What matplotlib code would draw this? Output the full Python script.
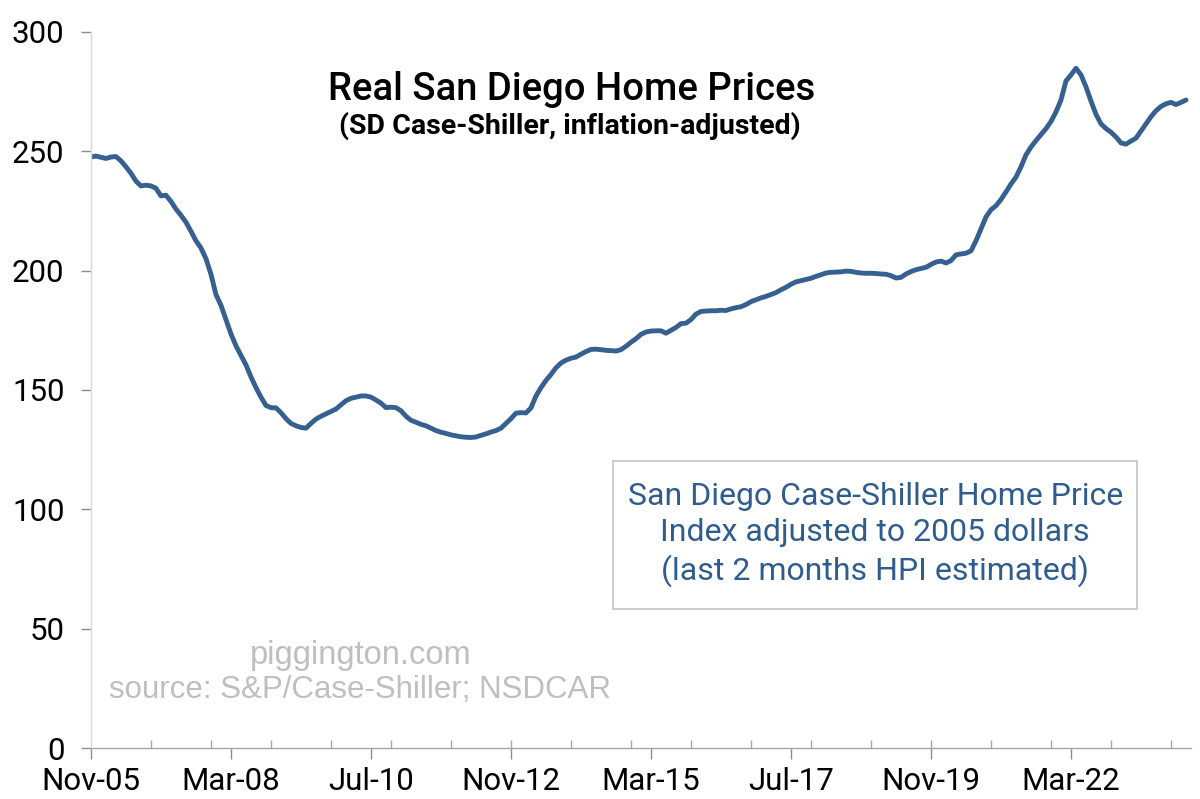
import matplotlib
matplotlib.use("Agg")
import matplotlib.pyplot as plt
from matplotlib.patches import Rectangle
import numpy as np
import pandas as pd

# monthly real index, Nov-2005 .. Feb-2024
START = "2005-11"
real_hpi = [
    247.6, 248.0, 247.5, 247.0, 247.6, 247.8, 246.0, 243.5, 240.8, 237.5, 235.5, 235.8,
    235.5, 234.5, 231.3, 231.6, 229.0, 225.8, 223.2, 220.3, 216.5, 212.5, 209.5, 205.0,
    198.5, 190.0, 185.5, 179.5, 173.5, 168.5, 164.5, 160.5, 155.5, 151.0, 147.0, 143.5,
    142.6, 142.5, 140.5, 138.0, 136.0, 135.0, 134.3, 134.0, 136.0, 137.8, 139.0, 140.0,
    141.0, 142.0, 143.8, 145.5, 146.5, 147.0, 147.5, 147.5, 147.0, 145.8, 144.5, 142.6,
    142.8, 142.6, 141.3, 139.0, 137.3, 136.5, 135.6, 135.0, 134.0, 133.0, 132.3, 131.8,
    131.2, 130.8, 130.4, 130.2, 130.1, 130.3, 131.0, 131.6, 132.4, 133.0, 134.0, 136.0,
    138.0, 140.3, 140.5, 140.4, 142.5, 147.5, 151.0, 154.0, 156.5, 159.3, 161.3, 162.5,
    163.3, 163.8, 165.0, 166.1, 167.0, 167.1, 166.9, 166.6, 166.5, 166.3, 166.9, 168.3,
    170.0, 171.5, 173.3, 174.3, 174.7, 174.8, 174.8, 173.8, 175.0, 176.2, 177.8, 178.0,
    179.5, 181.8, 182.9, 183.1, 183.2, 183.2, 183.4, 183.3, 184.0, 184.5, 184.9, 185.8,
    187.0, 187.8, 188.6, 189.2, 190.0, 190.8, 192.0, 193.0, 194.3, 195.3, 195.8, 196.3,
    196.8, 197.6, 198.3, 199.0, 199.3, 199.4, 199.5, 199.8, 199.7, 199.3, 199.0, 198.9,
    198.9, 198.8, 198.6, 198.5, 197.9, 196.9, 197.2, 198.6, 199.6, 200.4, 200.9, 201.4,
    202.6, 203.6, 204.0, 203.2, 204.2, 206.6, 207.0, 207.3, 208.3, 212.5, 217.5, 222.5,
    225.5, 227.2, 229.8, 233.0, 236.3, 239.2, 243.5, 248.5, 251.8, 254.5, 257.0, 259.5,
    262.5, 266.5, 271.5, 279.5, 282.0, 284.8, 282.0, 277.0, 271.0, 265.5, 261.5, 259.5,
    258.0, 256.0, 253.5, 253.0, 254.3, 255.5, 258.5, 261.5, 264.5, 267.0, 268.8, 269.9,
    270.5, 269.6, 270.5, 271.5,
]
months = pd.period_range(START, periods=len(real_hpi), freq="M")
y_ticks = [0, 50, 100, 150, 200, 250, 300]
label_step = 28   # a label every 28 months
year_step = 12    # small inner tick every year

LINE = "#35608F"
TXT_BLUE = "#2F5C8E"
GREY_TXT = "#BFBFBF"

plt.rcParams["font.family"] = ["Roboto", "DejaVu Sans"]

fig = plt.figure(figsize=(12, 7.99), dpi=100)
ax = fig.add_axes([0.0758, 0.0638, 0.9167, 0.8962])

x = np.arange(len(real_hpi))
ax.plot(x, real_hpi, color=LINE, lw=3.5, solid_joinstyle="round",
        solid_capstyle="round")

ax.set_xlim(0, len(real_hpi))
ax.set_ylim(0, 300)
ax.set_yticks(y_ticks)

major = x[::label_step]
ax.set_xticks(major)
ax.set_xticklabels([months[i].strftime("%b-%y") for i in major])
ax.set_xticks(x[::year_step][1:], minor=True)
ax.xaxis.remove_overlapping_locs = False

for s in ["top", "right"]:
    ax.spines[s].set_visible(False)
ax.spines["left"].set_color("#D9D9D9")
ax.spines["bottom"].set_color("#A6A6A6")
ax.spines["left"].set_linewidth(1.0)
ax.spines["bottom"].set_linewidth(1.0)

ax.tick_params(axis="y", length=7, width=1, color="#8C8C8C", pad=12, labelsize=22.5)
ax.tick_params(axis="x", which="major", length=8, width=1, color="#8C8C8C",
               pad=6, labelsize=22.5, direction="out")
ax.tick_params(axis="x", which="minor", length=6, width=1, color="#A6A6A6",
               direction="in")

ax.text(0.437, 0.92, "Real San Diego Home Prices", transform=ax.transAxes,
        ha="center", va="center", fontsize=27.5, fontweight="medium", color="black")
ax.text(0.435, 0.869, "(SD Case-Shiller, inflation-adjusted)", transform=ax.transAxes,
        ha="center", va="center", fontsize=20.5, fontweight="semibold", color="black")

# note box
ax.add_patch(Rectangle((0.4745, 0.194), 0.4765, 0.207, transform=ax.transAxes,
                       facecolor="white", edgecolor="#C8C8C8", linewidth=1.3,
                       zorder=3))
ax.text(0.713, 0.2985, "San Diego Case-Shiller Home Price\nIndex adjusted to 2005 dollars\n(last 2 months HPI estimated)",
        transform=ax.transAxes, ha="center", va="center", fontsize=23,
        color=TXT_BLUE, linespacing=1.3, zorder=4)

ax.text(0.245, 0.129, "piggington.com", transform=ax.transAxes, ha="center",
        va="center", fontsize=23.5, color=GREY_TXT, family=["Liberation Sans"])
ax.text(0.245, 0.081, "source: S&P/Case-Shiller; NSDCAR", transform=ax.transAxes,
        ha="center", va="center", fontsize=22.5, color=GREY_TXT,
        family=["Liberation Sans"])

fig.savefig("out.png", dpi=100, facecolor="white")
